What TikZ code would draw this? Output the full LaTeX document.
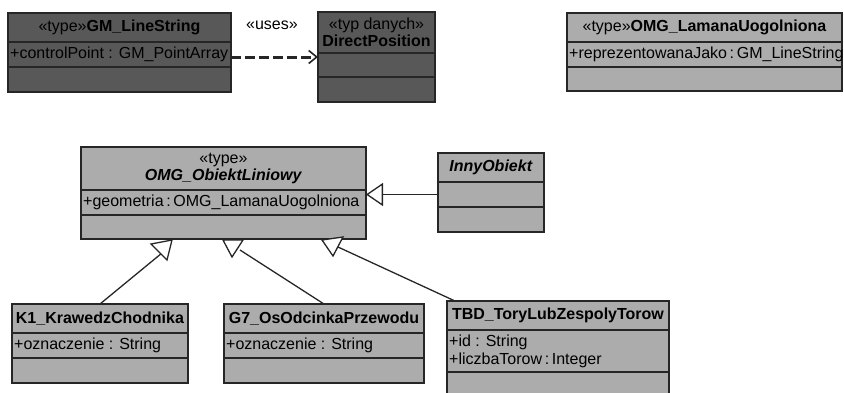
\documentclass[tikz,border=0pt]{standalone}
\usepackage{fontspec}
\setmainfont{Liberation Sans}
\usetikzlibrary{arrows.meta,calc}
\definecolor{darkbox}{RGB}{88,88,88}
\definecolor{lightbox}{RGB}{172,172,172}
\begin{document}
\begin{tikzpicture}[x=1pt,y=-1pt,
  comp/.style={draw=black!85, line width=1.4pt, anchor=north west, inner sep=0pt, outer sep=0pt,
    font=\fontsize{16}{18}\selectfont, align=center},
  dk/.style={comp, fill=darkbox},
  lt/.style={comp, fill=lightbox},
  attr/.style={anchor=west, inner sep=2pt, font=\fontsize{16}{18}\selectfont, align=left},
  lbl/.style={inner sep=0pt, font=\fontsize{16}{18}\selectfont},
  conn/.style={line width=1.3pt, draw=black!85},
  gen/.style={-{Triangle[open, length=17pt, width=23pt, fill=white]}, conn},
  tri/.style={conn, fill=white, line join=miter},
  dep/.style={-{Straight Barb[length=8pt, width=13pt, line width=1.6pt]}, line width=3pt,
    dash pattern=on 10pt off 4pt, draw=black!85}
]
\useasboundingbox (0,0) rectangle (844,392);
\clip (0,0) rectangle (844,392);

% GM_LineString
\node[dk, minimum width=223, minimum height=29] (lsH) at (8,13) {«type»\textbf{GM\_LineString}};
\node[dk, minimum width=223, minimum height=25] (lsA) at (8,42) {};
\node[dk, minimum width=223, minimum height=25] (lsO) at (8,67) {};
\node[attr] (lsAt) at (lsA.west) {+controlPoint : GM\_PointArray};

% DirectPosition
\node[dk, minimum width=117, minimum height=41] (dpH) at (318,12) {«typ danych»\\[-1pt]\textbf{DirectPosition}};
\node[dk, minimum width=117, minimum height=24] (dpA) at (318,53) {};
\node[dk, minimum width=117, minimum height=25] (dpO) at (318,77) {};

% uses
\coordinate (usesEnd) at ($(dpA.north west)+(0,4)$);
\draw[dep] (lsA.east |- usesEnd) -- (usesEnd);
\node[lbl] (uses) at (272,25) {«uses»};

% OMG_LamanaUogolniona
\node[lt, minimum width=275, minimum height=29] (lmH) at (567,13) {«type»\textbf{OMG\_LamanaUogolniona}};
\node[lt, minimum width=275, minimum height=25] (lmA) at (567,42) {};
\node[lt, minimum width=275, minimum height=24] (lmO) at (567,67) {};
\node[attr] (lmAt) at (lmA.west) {+reprezentowanaJako\,:\,GM\_LineString};

% OMG_ObiektLiniowy
\node[lt, minimum width=285, minimum height=43] (obH) at (81,147) {«type»\\[-1pt]\textbf{\textit{OMG\_ObiektLiniowy}}};
\node[lt, minimum width=285, minimum height=25] (obA) at (81,190) {};
\node[lt, minimum width=285, minimum height=24] (obO) at (81,215) {};
\node[attr] (obAt) at (obA.west) {+geometria\,:\,OMG\_LamanaUogolniona};

% InnyObiekt
\node[lt, minimum width=106, minimum height=29] (ioH) at (438,153) {\textbf{\textit{InnyObiekt}}};
\node[lt, minimum width=106, minimum height=25] (ioA) at (438,182) {};
\node[lt, minimum width=106, minimum height=25] (ioO) at (438,207) {};

% K1
\node[lt, minimum width=176, minimum height=29] (k1H) at (12,304) {\textbf{K1\_KrawedzChodnika}};
\node[lt, minimum width=176, minimum height=25] (k1A) at (12,333) {};
\node[lt, minimum width=176, minimum height=25] (k1O) at (12,358) {};
\node[attr] (k1At) at (k1A.west) {+oznaczenie : String};

% G7
\node[lt, minimum width=200, minimum height=29] (g7H) at (224,304) {\textbf{G7\_OsOdcinkaPrzewodu}};
\node[lt, minimum width=200, minimum height=25] (g7A) at (224,333) {};
\node[lt, minimum width=200, minimum height=25] (g7O) at (224,358) {};
\node[attr] (g7At) at (g7A.west) {+oznaczenie : String};

% TBD
\node[lt, minimum width=222, minimum height=29] (tbH) at (447,301) {\textbf{TBD\_ToryLubZespolyTorow}};
\node[lt, minimum width=222, minimum height=42] (tbA) at (447,330) {};
\node[lt, minimum width=222, minimum height=30] (tbO) at (447,372) {};
\node[attr] (tbAt) at (tbA.west) {+id : String\\+liczbaTorow\,:\,Integer};

% generalization InnyObiekt -> ObiektLiniowy
\draw[gen] (ioA.west) -- (obA.east |- ioA.west);

% generalizations from the bottom classes (triangles as drawn in the source)
\coordinate (k1e) at ($(obO.south west)+(81,14)$);
\coordinate (g7e) at ($(obO.south west)+(159,11)$);
\coordinate (tbe) at ($(obO.south west)+(257,8)$);
\draw[conn] (k1H.north) -- (k1e);
\draw[conn] (g7H.north) -- (g7e);
\draw[conn] ($(tbH.north west)+(8,0)$) -- (tbe);
\draw[tri] ($(obO.south west)+(70,5)$) -- ($(obO.south west)+(91,1)$) -- ($(obO.south west)+(86,21)$) -- cycle;
\draw[tri] ($(obO.south west)+(142,1)$) -- ($(obO.south west)+(162,1)$) -- ($(obO.south west)+(151,18)$) -- cycle;
\draw[tri] ($(obO.south west)+(241,1)$) -- ($(obO.south west)+(262,-2)$) -- ($(obO.south west)+(252,17)$) -- cycle;
\end{tikzpicture}
\end{document}
